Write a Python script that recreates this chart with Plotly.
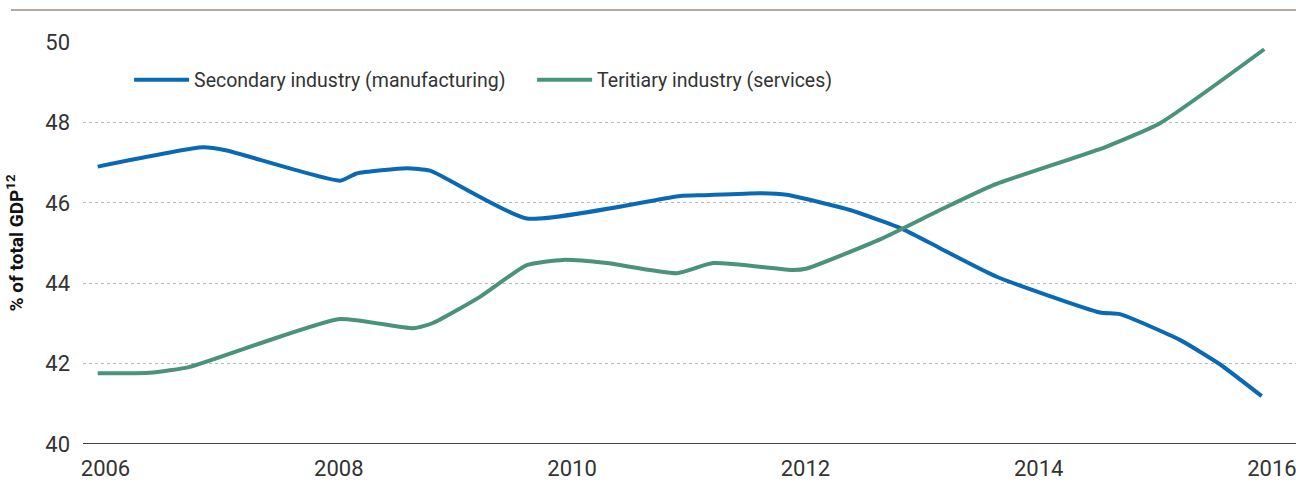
import plotly.graph_objects as go

# Secondary industry (manufacturing), % of total GDP
sec_year = [2005.933, 2006.836, 2007.039, 2008.010, 2008.153, 2008.582, 2008.782,
            2009.611, 2010.925, 2011.125, 2011.611, 2011.840, 2012.383, 2012.839,
            2013.154, 2013.640, 2014.526, 2014.697, 2015.210, 2015.550, 2015.912]
sec_val = [46.90, 47.38, 47.30, 46.55, 46.73, 46.86, 46.80,
           45.61, 46.17, 46.19, 46.24, 46.20, 45.82, 45.34,
           44.87, 44.16, 43.27, 43.23, 42.59, 41.99, 41.19]

# Teritiary industry (services)
ter_year = [2005.933, 2006.380, 2006.724, 2007.320, 2008.010, 2008.639, 2008.807,
            2009.210, 2009.611, 2009.925, 2010.297, 2010.897, 2011.210, 2011.896,
            2012.005, 2012.640, 2013.154, 2013.611, 2014.583, 2015.040, 2015.934]
ter_val = [41.76, 41.77, 41.92, 42.50, 43.11, 42.88, 43.01,
           43.66, 44.45, 44.58, 44.50, 44.25, 44.50, 44.33,
           44.36, 45.09, 45.82, 46.44, 47.40, 47.98, 49.82]

x_ticks = [2006, 2008, 2010, 2012, 2014, 2016]
y_ticks = [40, 42, 44, 46, 48, 50]

names = ["Secondary industry (manufacturing)", "Teritiary industry (services)"]
colors = ["#0a69b3", "#4a9279"]

FONT = "Roboto, 'Liberation Sans', Arial, sans-serif"

fig = go.Figure()
fig.add_trace(go.Scatter(x=sec_year, y=sec_val, mode="lines", name=names[0],
                         line=dict(color=colors[0], width=4, shape="spline", smoothing=0.5)))
fig.add_trace(go.Scatter(x=ter_year, y=ter_val, mode="lines", name=names[1],
                         line=dict(color=colors[1], width=4, shape="spline", smoothing=0.5)))

fig.update_layout(
    width=1296, height=490,
    margin=dict(l=83, r=0, t=42, b=46),
    paper_bgcolor="white", plot_bgcolor="white",
    font=dict(family=FONT, color="#333333", size=20),
    showlegend=True,
    legend=dict(orientation="h", x=0.038, y=0.905, xanchor="left", yanchor="middle",
                font=dict(size=19.5, color="#333333"), bgcolor="rgba(0,0,0,0)",
                itemwidth=55, entrywidth=333, entrywidthmode="pixels", tracegroupgap=0),
    xaxis=dict(range=[2005.807, 2016.206], tickvals=x_ticks, ticktext=[str(v) for v in x_ticks],
               showgrid=False, zeroline=False, showline=False, ticks="",
               ticklabeloverflow="allow",
               tickfont=dict(size=22, color="#333333"), ticklabelstandoff=9),
    yaxis=dict(range=[40, 50], tickvals=y_ticks, showgrid=True, gridcolor="#b8b8b8",
               griddash="dot", gridwidth=1, zeroline=False, showline=False, ticks="",
               tickfont=dict(size=22, color="#333333"), ticklabelstandoff=12,
               title=dict(text="<b>% of total GDP<sup>12</sup></b>",
                          font=dict(size=19, color="#111111"), standoff=16)),
)

# solid baseline at 40 and top rule
fig.add_shape(type="line", xref="paper", yref="y", x0=0, x1=1, y0=40, y1=40,
              line=dict(color="#444444", width=2), layer="above")
fig.add_shape(type="line", xref="paper", yref="paper", x0=-0.0594, x1=1, y0=1.0796, y1=1.0796,
              line=dict(color="#9c8c82", width=1.5))

fig.write_html("out.html", config={"displayModeBar": False},
               post_script="document.body.style.margin='0';")
